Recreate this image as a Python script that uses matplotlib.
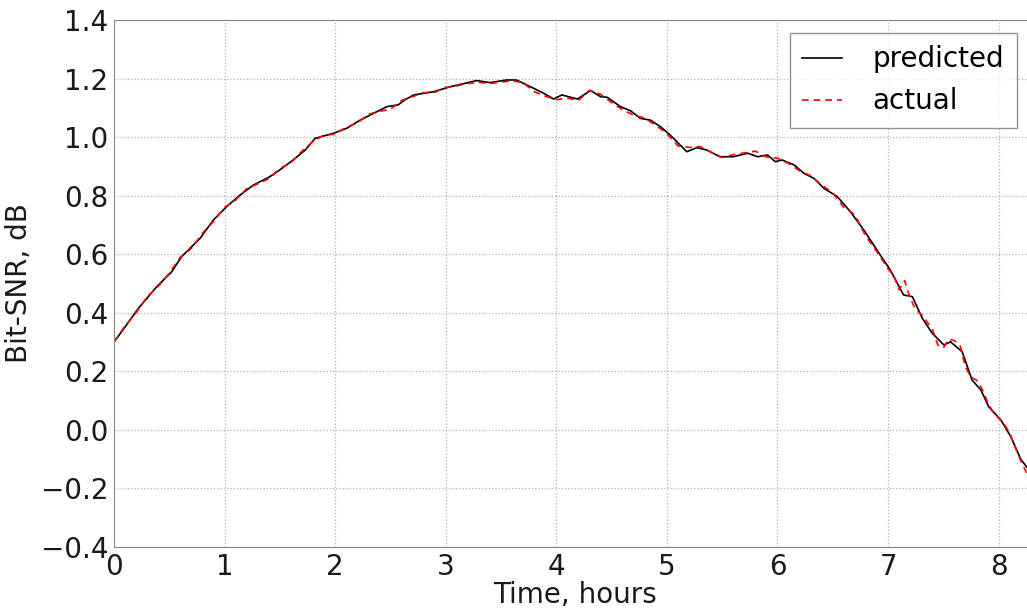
import matplotlib
matplotlib.use('Agg')
import matplotlib.pyplot as plt

# predicted Bit-SNR
pred_t = [0.0, 0.145, 0.22, 0.386, 0.522, 0.612, 0.778, 0.899, 1.02, 1.14,
          1.26, 1.41, 1.50, 1.62, 1.73, 1.82, 1.985, 2.105, 2.226, 2.347,
          2.467, 2.57, 2.63, 2.71, 2.89, 3.04, 3.28, 3.40, 3.55, 3.64,
          3.765, 3.885, 3.975, 4.05, 4.19, 4.31, 4.40, 4.46, 4.58, 4.67,
          4.76, 4.85, 4.94, 5.03, 5.18, 5.27, 5.36, 5.48, 5.60, 5.73,
          5.82, 5.91, 5.98, 6.04, 6.15, 6.24, 6.33, 6.42, 6.54, 6.66,
          6.78, 6.90, 7.02, 7.14, 7.22, 7.31, 7.40, 7.505, 7.565, 7.67,
          7.76, 7.84, 7.91, 8.02, 8.11, 8.20, 8.27]
pred_v = [0.30, 0.375, 0.415, 0.489, 0.54, 0.592, 0.654, 0.717, 0.763, 0.802,
          0.836, 0.865, 0.888, 0.922, 0.956, 0.996, 1.013, 1.03, 1.058, 1.081,
          1.104, 1.11, 1.127, 1.144, 1.155, 1.172, 1.193, 1.186, 1.195, 1.195,
          1.172, 1.15, 1.13, 1.144, 1.13, 1.159, 1.138, 1.136, 1.104, 1.09,
          1.064, 1.058, 1.036, 1.007, 0.95, 0.964, 0.956, 0.933, 0.933, 0.945,
          0.933, 0.939, 0.916, 0.922, 0.905, 0.876, 0.859, 0.825, 0.797, 0.745,
          0.683, 0.614, 0.546, 0.461, 0.455, 0.381, 0.33, 0.29, 0.301, 0.267,
          0.17, 0.136, 0.079, 0.034, -0.023, -0.10, -0.135]

# actual Bit-SNR
act_t = [0.0, 0.1, 0.2, 0.3, 0.4, 0.5, 0.6, 0.7, 0.8, 0.9,
         1.0, 1.1, 1.2, 1.3, 1.4, 1.5, 1.6, 1.7, 1.8, 1.9,
         2.0, 2.1, 2.2, 2.3, 2.4, 2.5, 2.6, 2.7, 2.8, 2.9,
         3.0, 3.1, 3.2, 3.3, 3.4, 3.5, 3.6, 3.7, 3.8, 3.9,
         4.0, 4.1, 4.2, 4.3, 4.4, 4.5, 4.6, 4.7, 4.8, 4.9,
         5.0, 5.1, 5.2, 5.3, 5.4, 5.5, 5.6, 5.7, 5.8, 5.9,
         6.0, 6.1, 6.2, 6.3, 6.4, 6.5, 6.6, 6.7, 6.8, 6.9,
         7.0, 7.05, 7.1, 7.15, 7.2, 7.25, 7.3, 7.35, 7.4, 7.45,
         7.5, 7.55, 7.6, 7.65, 7.7, 7.75, 7.8, 7.85, 7.9, 7.95,
         8.0, 8.05, 8.1, 8.15, 8.2, 8.27]
act_v = [0.30, 0.355, 0.40, 0.455, 0.49, 0.535, 0.59, 0.62, 0.672, 0.712,
         0.76, 0.785, 0.824, 0.84, 0.858, 0.893, 0.912, 0.952, 0.985, 1.007,
         1.01, 1.034, 1.048, 1.078, 1.088, 1.095, 1.125, 1.138, 1.152, 1.153,
         1.17, 1.175, 1.183, 1.187, 1.183, 1.188, 1.192, 1.186, 1.155, 1.14,
         1.128, 1.133, 1.125, 1.16, 1.146, 1.118, 1.093, 1.075, 1.065, 1.04,
         1.012, 0.97, 0.965, 0.968, 0.948, 0.93, 0.94, 0.946, 0.952, 0.932,
         0.928, 0.91, 0.885, 0.868, 0.836, 0.81, 0.76, 0.735, 0.66, 0.608,
         0.55, 0.53, 0.478, 0.51, 0.45, 0.41, 0.395, 0.37, 0.345, 0.29,
         0.28, 0.31, 0.305, 0.29, 0.215, 0.18, 0.17, 0.14, 0.095, 0.06,
         0.04, 0.02, -0.01, -0.06, -0.105, -0.16]

x_ticks = [0, 1, 2, 3, 4, 5, 6, 7, 8]
y_ticks = [-0.4, -0.2, 0.0, 0.2, 0.4, 0.6, 0.8, 1.0, 1.2, 1.4]


def main():
    fig = plt.figure(figsize=(10.27, 6.11), dpi=100)
    # the right part of the axes runs past the edge of the picture
    ax = fig.add_axes([0.111, 0.1047, 0.898, 0.8626])

    ax.plot(pred_t, pred_v, color='black', linewidth=1.2, label='predicted')
    ax.plot(act_t, act_v, color='red', linestyle='--', linewidth=1.2,
            dashes=(4, 3), label='actual')

    ax.set_xlim(0, 8.34)
    ax.set_ylim(-0.4, 1.4)
    ax.set_xticks(x_ticks)
    ax.set_yticks(y_ticks)
    ax.set_xticklabels([str(t) for t in x_ticks])
    ax.set_yticklabels([f'{t:.1f}'.replace('-', '\u2212') for t in y_ticks])
    ax.tick_params(length=0, labelsize=20, pad=4, colors='#1a1a1a')
    ax.grid(True, linestyle=':', color='#b0b0b0', linewidth=0.9)
    ax.set_axisbelow(True)

    for side in ['left', 'bottom', 'top']:
        ax.spines[side].set_color('#888888')
    ax.spines['right'].set_visible(False)

    ax.set_xlabel('Time, hours', fontsize=20, labelpad=0, color='#1a1a1a')
    ax.set_ylabel('Bit-SNR, dB', fontsize=20, labelpad=6, color='#1a1a1a')

    # legend box: right edge at x=1017px, top at y=33px
    anchor_x = (1017 - 114) / (0.898 * 1027)
    anchor_y = 1 - 13 / 527
    leg = ax.legend(loc='upper right', fontsize=20, fancybox=False,
                    handlelength=1.45, handletextpad=1.1, borderpad=0.45,
                    borderaxespad=0, bbox_to_anchor=(anchor_x, anchor_y))
    leg.get_frame().set_edgecolor('#777777')
    leg.get_frame().set_linewidth(1.0)

    fig.savefig('out.png', dpi=100)


if __name__ == '__main__':
    main()
